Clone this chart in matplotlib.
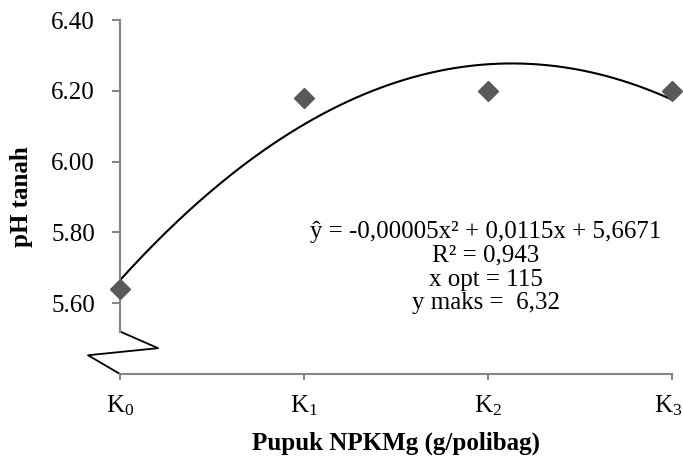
import numpy as np
import matplotlib.transforms as mtransforms
from matplotlib import pyplot as plt

plt.rcParams['font.family'] = ['Liberation Serif', 'DejaVu Serif']
plt.rcParams['mathtext.fontset'] = 'custom'
plt.rcParams['mathtext.rm'] = 'Liberation Serif'
plt.rcParams['mathtext.it'] = 'Liberation Serif:italic'

perlakuan = ["K$_0$", "K$_1$", "K$_2$", "K$_3$"]
ph_tanah = [5.64, 6.18, 6.20, 6.20]
y_ticks = [5.60, 5.80, 6.00, 6.20, 6.40]

persamaan = ("ŷ = -0,00005x² + 0,0115x + 5,6671\n"
             "R² = 0,943\n"
             "x opt = 115\n"
             "y maks =  6,32")

x = np.arange(len(perlakuan))
koef = np.polyfit(x, ph_tanah, 2)
xs = np.linspace(0, len(perlakuan) - 1, 200)

fig = plt.figure(figsize=(6.83, 4.65), dpi=100)
ax = fig.add_axes([120 / 683, 91 / 465, 552 / 683, 354 / 465])

ax.plot(x, ph_tanah, linestyle='none', marker='D', markersize=10,
        color='#595959', clip_on=False, zorder=3)
ax.plot(xs, np.polyval(koef, xs), color='black', linewidth=1.5, zorder=2)

ax.set_xlim(0, 3)
ax.set_ylim(5.40, 6.40)
ax.set_xticks(x)
ax.set_xticklabels(perlakuan, fontsize=18)
ax.set_yticks(y_ticks)
ax.set_yticklabels(["%.2f" % v for v in y_ticks], fontsize=18)

for s in ['top', 'right']:
    ax.spines[s].set_visible(False)
for s in ['left', 'bottom']:
    ax.spines[s].set_color('#868686')
    ax.spines[s].set_linewidth(1.5)
ax.spines['left'].set_bounds(5.52, 6.40)
ax.tick_params(axis='both', colors='#868686', labelcolor='black')
ax.tick_params(axis='y', length=6, width=1.5, pad=12)
ax.tick_params(axis='x', length=4, width=1.5, pad=10)

# keep last category label inside the figure
lbl = ax.get_xticklabels()[-1]
lbl.set_transform(lbl.get_transform() +
                  mtransforms.ScaledTranslation(-4 / 100, 0, fig.dpi_scale_trans))

# axis break zigzag
zx = [0.0, 0.069, -0.058, 0.0]
zy = [0.12, 0.073, 0.053, 0.0]
ax.plot(zx, zy, color='black', linewidth=1.3, transform=ax.transAxes,
        clip_on=False)

ax.text(0.663, 0.30, persamaan, transform=ax.transAxes, ha='center',
        va='center', fontsize=18, linespacing=1.1)

ax.set_ylabel("pH tanah", fontsize=18, fontweight='bold')
ax.set_xlabel("Pupuk NPKMg (g/polibag)", fontsize=18, fontweight='bold')
ax.xaxis.set_label_coords(0.5, -0.162)
ax.yaxis.set_label_coords(-0.158, 0.5)

plt.savefig("out.png", dpi=100)
